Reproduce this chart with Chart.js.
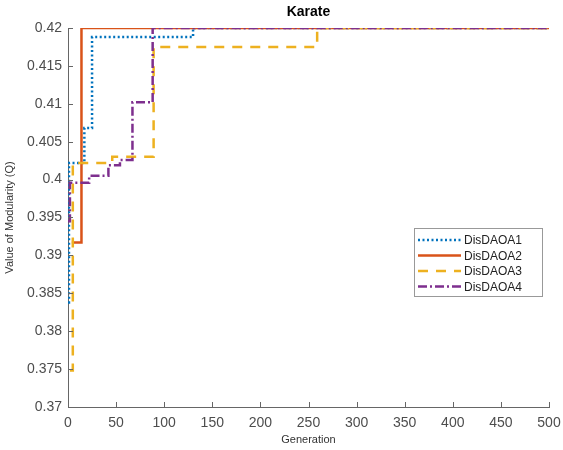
<!DOCTYPE html>
<html>
<head>
<meta charset="utf-8">
<script src="https://cdn.jsdelivr.net/npm/chart.js@4.4.0/dist/chart.umd.min.js"></script>
<style>
  html, body { margin: 0; padding: 0; background: #fff; }
  #wrap { width: 563px; height: 450px; }
</style>
</head>
<body>
<div id="wrap"><canvas id="chart-karate"></canvas></div>
<script>
// step points: [generation, modularity] – value holds until next point
const seriesNames = ['DisDAOA1', 'DisDAOA2', 'DisDAOA3', 'DisDAOA4'];
const daoa1Gen = [0, 1, 17, 25, 130, 500];
const daoa1Q   = [0.3838, 0.4022, 0.4068, 0.4188, 0.42, 0.42];
const daoa2Gen = [4, 14, 500];
const daoa2Q   = [0.3917, 0.42, 0.42];
const daoa3Gen = [2, 5, 46, 89, 259, 500];
const daoa3Q   = [0.3748, 0.4022, 0.403, 0.4175, 0.42, 0.42];
const daoa4Gen = [0, 2, 22, 42, 54, 67, 88, 500];
const daoa4Q   = [0.3945, 0.3996, 0.4005, 0.4019, 0.4026, 0.4102, 0.42, 0.42];
const xTicks = [0, 50, 100, 150, 200, 250, 300, 350, 400, 450, 500];

const COLORS = ['#0072BD', '#D95319', '#EDB120', '#7E2F8E'];
const DASHES = [[2, 2.5], [], [10, 8], [9, 3, 2, 3]];
const FONT = "'Liberation Sans', Arial, sans-serif";

const toPts = (g, q) => g.map((x, i) => ({ x, y: q[i] }));
const allPts = [toPts(daoa1Gen, daoa1Q), toPts(daoa2Gen, daoa2Q), toPts(daoa3Gen, daoa3Q), toPts(daoa4Gen, daoa4Q)];

// later series painted on top, like MATLAB's plot order
const datasets = seriesNames.map((name, i) => ({
    label: name,
    data: allPts[i],
    borderColor: COLORS[i],
    borderWidth: 2.5,
    borderDash: DASHES[i],
    stepped: true,
    pointRadius: 0,
    fill: false,
    order: seriesNames.length - 1 - i,
}));

// inward ticks, title, legend box (MATLAB look)
const matlabLook = {
    id: 'matlabLook',
    afterDraw(chart) {
        const { ctx, chartArea: a, scales: { x, y } } = chart;
        ctx.save();
        ctx.strokeStyle = '#666';
        ctx.lineWidth = 1;
        ctx.beginPath();
        x.ticks.forEach(t => {
            const px = Math.round(x.getPixelForValue(t.value)) + 0.5;
            ctx.moveTo(px, a.bottom); ctx.lineTo(px, a.bottom - 5);
        });
        y.ticks.forEach(t => {
            const py = Math.round(y.getPixelForValue(t.value)) + 0.5;
            ctx.moveTo(a.left, py); ctx.lineTo(a.left + 5, py);
        });
        ctx.stroke();

        // title
        ctx.fillStyle = '#000';
        ctx.font = 'bold 14px ' + FONT;
        ctx.textAlign = 'center';
        ctx.textBaseline = 'middle';
        ctx.fillText('Karate', (a.left + a.right) / 2, 12);

        // legend
        const lx = 414, ly = 228, lw = 128, lh = 68;
        ctx.fillStyle = '#fff';
        ctx.fillRect(lx, ly, lw, lh);
        ctx.strokeStyle = '#999';
        ctx.strokeRect(lx + 0.5, ly + 0.5, lw, lh);
        ctx.font = '12px ' + FONT;
        ctx.textAlign = 'left';
        seriesNames.forEach((name, i) => {
            const yy = ly + 12 + i * 15.5;
            ctx.strokeStyle = COLORS[i];
            ctx.lineWidth = 2.5;
            ctx.setLineDash(DASHES[i]);
            ctx.beginPath();
            ctx.moveTo(lx + 4, yy); ctx.lineTo(lx + 47, yy);
            ctx.stroke();
            ctx.setLineDash([]);
            ctx.fillStyle = '#222';
            ctx.fillText(name, lx + 50, yy + 1);
        });
        ctx.restore();
    }
};

new Chart(document.getElementById('chart-karate').getContext('2d'), {
    type: 'line',
    data: { datasets },
    options: {
        responsive: true,
        maintainAspectRatio: false,
        animation: false,
        layout: { padding: { top: 28, right: 14, left: 0, bottom: 0 } },
        plugins: { legend: { display: false }, tooltip: { enabled: false } },
        scales: {
            x: {
                type: 'linear',
                min: 0, max: 500,
                afterBuildTicks: s => { s.ticks = xTicks.map(v => ({ value: v })); },
                afterFit: s => { s.height = 43; s.paddingLeft = 0; s.paddingRight = 0; },
                grid: { display: false, drawTicks: false },
                border: { color: '#666', width: 1 },
                ticks: { color: '#4d4d4d', padding: 8, font: { family: FONT, size: 14 }, maxRotation: 0 },
                title: { display: true, text: 'Generation', color: '#333', padding: { top: 0, bottom: 3 }, font: { family: FONT, size: 11 } },
            },
            y: {
                min: 0.37, max: 0.42,
                afterFit: s => { s.width = 68; s.paddingTop = 0; s.paddingBottom = 0; },
                grid: { display: false, drawTicks: false },
                border: { color: '#666', width: 1 },
                ticks: {
                    stepSize: 0.005,
                    color: '#4d4d4d',
                    padding: 6,
                    font: { family: FONT, size: 14 },
                    callback: v => String(+v.toFixed(3)),
                },
                title: { display: true, text: 'Value of Modularity (Q)', color: '#333', padding: { top: 3, bottom: 0 }, font: { family: FONT, size: 11 } },
            },
        },
    },
    plugins: [matlabLook],
});
</script>
</body>
</html>
